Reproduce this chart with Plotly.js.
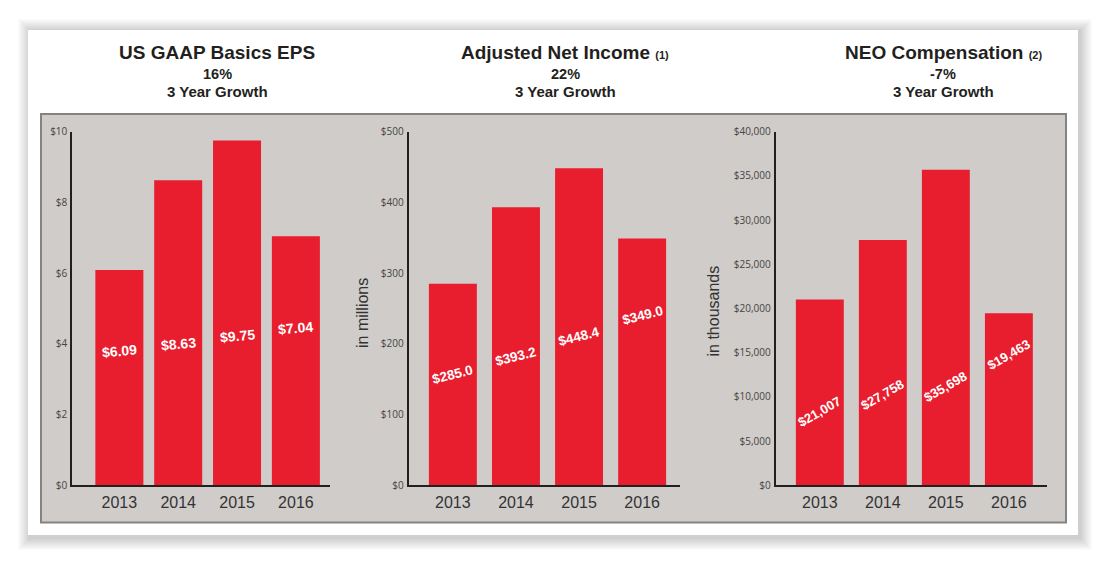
<!DOCTYPE html>
<html>
<head>
<meta charset="utf-8">
<script src="https://cdn.plot.ly/plotly-3.0.1.min.js"></script>
<style>
  html, body { margin: 0; padding: 0; background: #ffffff; }
  #chart { width: 1108px; height: 564px; }
</style>
</head>
<body>
<div id="chart"></div>
<script>
// ---------------- DATA ----------------
const categories = ['2013', '2014', '2015', '2016'];

const epsValues = [6.09, 8.63, 9.75, 7.04];
const netIncomeValues = [285.0, 393.2, 448.4, 349.0];
const neoCompValues = [21007, 27758, 35698, 19463];

const epsTickVals = [0, 2, 4, 6, 8, 10];
const epsTickText = ['$0', '$2', '$4', '$6', '$8', '$10'];
const netIncomeTickVals = [0, 100, 200, 300, 400, 500];
const netIncomeTickText = ['$0', '$100', '$200', '$300', '$400', '$500'];
const neoTickVals = [0, 5000, 10000, 15000, 20000, 25000, 30000, 35000, 40000];
const neoTickText = ['$0', '$5,000', '$10,000', '$15,000', '$20,000', '$25,000', '$30,000', '$35,000', '$40,000'];

const chartTitles = ['US GAAP Basics EPS', 'Adjusted Net Income', 'NEO Compensation'];
const titleNotes = ['', '(1)', '(2)'];
const growthRates = ['16%', '22%', '-7%'];
const growthCaption = '3 Year Growth';
const yAxisTitles = ['', 'in millions', 'in thousands'];

// ---------------- LAYOUT / STYLE ----------------
const W = 1108, H = 564;
const px = x => x / W;
const py = y => 1 - y / H;

const BAR_COLOR = '#e81d2d';
const AXIS_COLOR = '#231f20';
const PANEL_COLOR = '#d0ccc9';
const TITLE_FONT = 'Liberation Sans, Arial, sans-serif';
const TICK_FONT = 'Open Sans, Noto Sans, sans-serif';

const yDomain = [py(485.3), py(131.7)];
const panels = [
  { xDomain: [px(72.3), px(330)], xRange: [-0.8, 3.58], barWidth: 0.816,
    yRange: [0, 10], tickVals: epsTickVals, tickText: epsTickText,
    values: epsValues, fmt: v => '$' + v.toFixed(2),
    labelY: [3.79, 3.99, 4.23, 4.46], labelAngle: -5, labelSize: 14,
    titleX: 217, axisTitleX: 0 },
  { xDomain: [px(408.7), px(680)], xRange: [-0.7, 3.6], barWidth: 0.76,
    yRange: [0, 500], tickVals: netIncomeTickVals, tickText: netIncomeTickText,
    values: netIncomeValues, fmt: v => '$' + v.toFixed(1),
    labelY: [156, 182, 211, 240], labelAngle: -14, labelSize: 13.5,
    titleX: 565, axisTitleX: 362, axisTitleY: 313 },
  { xDomain: [px(775.7), px(1046.7)], xRange: [-0.7, 3.6], barWidth: 0.76,
    yRange: [0, 40000], tickVals: neoTickVals, tickText: neoTickText,
    values: neoCompValues, fmt: v => '$' + v.toLocaleString('en-US'),
    labelY: [8300, 10220, 11130, 14840], labelAngle: -30, labelSize: 13,
    titleX: 943, axisTitleX: 713, axisTitleY: 311.5 }
];

const traces = [];
const layout = {
  width: W, height: H,
  margin: { l: 0, r: 0, t: 0, b: 0, pad: 0 },
  paper_bgcolor: '#ffffff',
  plot_bgcolor: 'rgba(0,0,0,0)',
  showlegend: false,
  annotations: [],
  shapes: []
};

// card shadow
for (let i = 12; i >= 1; i--) {
  layout.shapes.push({
    type: 'rect', xref: 'paper', yref: 'paper', layer: 'below',
    x0: px(28 + 2 - i), x1: px(1078 + 2 + i), y0: py(535 + 3 + i), y1: py(30 + 1 - i),
    line: { width: 0 }, fillcolor: 'rgba(0,0,0,0.016)'
  });
}
// white card
layout.shapes.push({
  type: 'rect', xref: 'paper', yref: 'paper', layer: 'below',
  x0: px(28), x1: px(1078), y0: py(535), y1: py(30),
  line: { width: 0 }, fillcolor: '#ffffff'
});
// gray panel
layout.shapes.push({
  type: 'rect', xref: 'paper', yref: 'paper', layer: 'below',
  x0: px(41), x1: px(1066), y0: py(522.5), y1: py(114),
  line: { width: 2, color: '#86827f' }, fillcolor: PANEL_COLOR
});

panels.forEach((p, i) => {
  const n = i + 1;
  const xa = 'xaxis' + (n === 1 ? '' : n);
  const ya = 'yaxis' + (n === 1 ? '' : n);
  const xr = 'x' + (n === 1 ? '' : n);
  const yr = 'y' + (n === 1 ? '' : n);

  traces.push({
    type: 'bar', x: categories, y: p.values, xaxis: xr, yaxis: yr,
    width: p.barWidth, marker: { color: BAR_COLOR, line: { width: 0 } },
    hoverinfo: 'skip', textposition: 'none'
  });

  layout[xa] = {
    domain: p.xDomain, anchor: yr, type: 'category', range: p.xRange,
    showline: true, linecolor: AXIS_COLOR, linewidth: 2, ticks: '',
    showgrid: false, zeroline: false, fixedrange: true,
    tickfont: { family: TITLE_FONT, size: 16, color: '#333333' },
    ticklabelstandoff: 1
  };
  layout[ya] = {
    domain: yDomain, anchor: xr, range: p.yRange,
    tickvals: p.tickVals, ticktext: p.tickText,
    showline: true, linecolor: AXIS_COLOR, linewidth: 2, ticks: '',
    showgrid: false, zeroline: false, fixedrange: true,
    tickfont: { family: TICK_FONT, size: 10, color: '#444444' },
    ticklabelstandoff: 1
  };

  // value labels (category index positions on the category axis)
  categories.forEach((c, j) => {
    layout.annotations.push({
      xref: xr, yref: yr, x: j, y: p.labelY[j],
      text: '<b>' + p.fmt(p.values[j]) + '</b>', showarrow: false,
      textangle: p.labelAngle, xanchor: 'center', yanchor: 'middle',
      font: { family: TITLE_FONT, size: p.labelSize, color: '#ffffff' }
    });
  });

  // titles
  const note = titleNotes[i] ? ' <span style="font-size:11px">' + titleNotes[i] + '</span>' : '';
  layout.annotations.push({
    xref: 'paper', yref: 'paper', x: px(p.titleX), y: py(52.5),
    xanchor: 'center', yanchor: 'middle', showarrow: false,
    text: '<b>' + chartTitles[i] + note + '</b>',
    font: { family: TITLE_FONT, size: 19, color: '#231f20' }
  });
  layout.annotations.push({
    xref: 'paper', yref: 'paper', x: px(p.titleX), y: py(73.7),
    xanchor: 'center', yanchor: 'middle', showarrow: false,
    text: '<b>' + growthRates[i] + '</b>',
    font: { family: TITLE_FONT, size: 14.5, color: '#231f20' }
  });
  layout.annotations.push({
    xref: 'paper', yref: 'paper', x: px(p.titleX), y: py(91.3),
    xanchor: 'center', yanchor: 'middle', showarrow: false,
    text: '<b>' + growthCaption + '</b>',
    font: { family: TITLE_FONT, size: 15, color: '#231f20' }
  });

  if (yAxisTitles[i]) {
    layout.annotations.push({
      xref: 'paper', yref: 'paper', x: px(p.axisTitleX), y: py(p.axisTitleY),
      xanchor: 'center', yanchor: 'middle', showarrow: false, textangle: -90,
      text: yAxisTitles[i],
      font: { family: TITLE_FONT, size: 16, color: '#333333' }
    });
  }
});

Plotly.newPlot('chart', traces, layout, { displayModeBar: false, staticPlot: true });
</script>
</body>
</html>
